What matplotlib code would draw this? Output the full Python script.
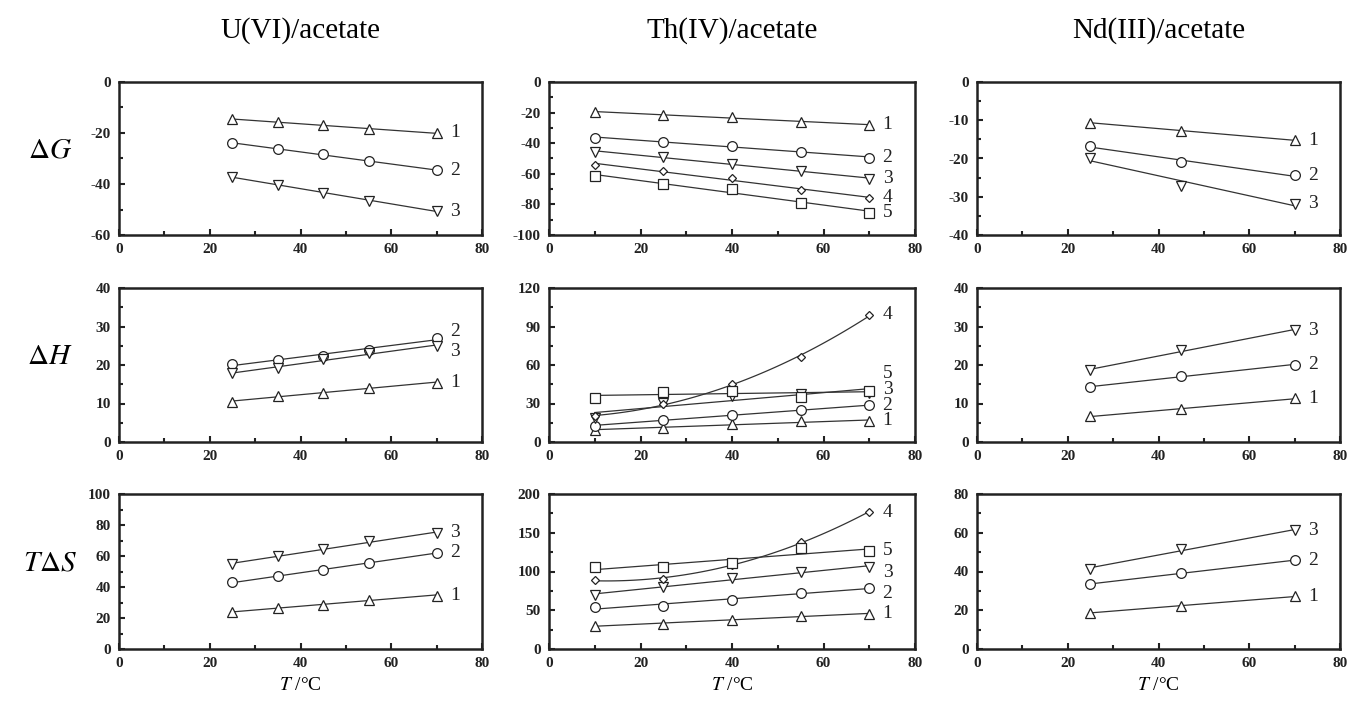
import matplotlib
matplotlib.use("Agg")
import matplotlib.pyplot as plt
import numpy as np
from matplotlib.ticker import MultipleLocator

plt.rcParams['font.family'] = ['Liberation Serif', 'DejaVu Serif']
plt.rcParams['mathtext.fontset'] = 'stix'
plt.rcParams['axes.unicode_minus'] = False

# temperatures (deg C)
T_U = [25, 35, 45, 55, 70]
T_TH = [10, 25, 40, 55, 70]
T_ND = [25, 45, 70]

# U(VI)/acetate
U_dG = [[-14.5, -15.7, -17.0, -18.5, -20.0],
        [-23.9, -26.3, -28.4, -31.0, -34.6],
        [-37.2, -40.4, -43.4, -46.5, -50.6]]
U_dH = [[10.4, 12.0, 12.8, 14.1, 15.4],
        [20.2, 21.4, 22.3, 24.0, 27.0],
        [18.0, 19.1, 21.5, 23.0, 25.0]]
U_TdS = [[23.7, 26.5, 28.7, 31.9, 34.5],
         [43.2, 46.9, 50.8, 55.5, 62.2],
         [55.0, 59.8, 64.4, 69.5, 74.9]]

# Th(IV)/acetate
TH_dG = [[-19.5, -21.4, -23.2, -26.0, -27.9],
         [-36.6, -39.0, -41.6, -45.5, -49.6],
         [-45.5, -49.0, -53.5, -58.2, -63.2],
         [-54.0, -58.2, -62.8, -70.8, -75.5],
         [-61.7, -66.5, -69.7, -78.8, -85.5]]
TH_dH = [[9.7, 10.7, 14.0, 16.0, 16.5],
         [12.8, 17.0, 21.0, 24.8, 28.6],
         [18.7, 30.6, 36.0, 37.5, 38.5],
         [20.0, 30.0, 45.0, 66.0, 99.0],
         [34.5, 39.0, 40.0, 35.2, 40.0]]
TH_TdS = [[30.1, 32.3, 37.4, 43.0, 45.5],
          [53.8, 55.9, 63.2, 71.8, 79.1],
          [69.7, 80.4, 91.2, 99.8, 105.4],
          [89.0, 90.0, 108.4, 138.5, 176.4],
          [105.4, 105.4, 111.4, 130.0, 126.5]]

# Nd(III)/acetate
ND_dG = [[-10.6, -12.8, -15.2],
         [-16.7, -21.0, -24.4],
         [-19.9, -27.1, -31.8]]
ND_dH = [[6.7, 8.5, 11.3],
         [14.3, 17.1, 20.1],
         [18.6, 24.0, 29.0]]
ND_TdS = [[18.8, 22.1, 27.2],
          [33.4, 39.4, 45.7],
          [41.4, 51.7, 61.2]]

COL_TITLES = ["U(VI)/acetate", "Th(IV)/acetate", "Nd(III)/acetate"]
ROW_LABELS = [r"$\Delta\mathit{G}$", r"$\Delta\mathit{H}$", r"$\mathit{T}\Delta\mathit{S}$"]
MARKERS = ["^", "o", "v", "D", "s"]
MSIZE = {"^": 7.5, "o": 7, "v": 7.5, "D": 4.5, "s": 7}

# panel: (x, series, ylim, major, minor, label offsets in points, curved series)
panels = [
    [(T_U, U_dG, (-60, 0), 20, 10, {}, []),
     (T_TH, TH_dG, (-100, 0), 20, 10, {}, []),
     (T_ND, ND_dG, (-40, 0), 10, 5, {}, [])],
    [(T_U, U_dH, (0, 40), 10, 5, {1: 5, 2: -4}, []),
     (T_TH, TH_dH, (0, 120), 30, 15, {4: 12, 2: 2, 1: 0, 0: 0}, [3]),
     (T_ND, ND_dH, (0, 40), 10, 5, {}, [])],
    [(T_U, U_TdS, (0, 100), 20, 10, {}, []),
     (T_TH, TH_TdS, (0, 200), 50, 25, {2: -4, 1: -4}, [3]),
     (T_ND, ND_TdS, (0, 80), 20, 10, {}, [])],
]

lefts = [119, 549, 977]
widths = [363, 366, 363]
tops = [82, 288, 494]
heights = [153, 154, 155]

fig = plt.figure(figsize=(13.5, 7.01), dpi=100)

for r in range(3):
    for c in range(3):
        x, series, ylim, maj, mnr, offs, curved = panels[r][c]
        ax = fig.add_axes([lefts[c] / 1350, 1 - (tops[r] + heights[r]) / 701,
                           widths[c] / 1350, heights[r] / 701])
        x = np.array(x, dtype=float)
        for i, y in enumerate(series):
            y = np.array(y)
            if i in curved:
                p = np.polyfit(x, y, 2)
            else:
                p = np.polyfit(x, y, 1)
            xs = np.linspace(x[0], x[-1], 100)
            ax.plot(xs, np.polyval(p, xs), color="#333333", lw=0.9, zorder=1)
            m = MARKERS[i]
            ax.plot(x, y, ls="none", marker=m, ms=MSIZE[m], mfc="white",
                    mec="#222222", mew=0.9, zorder=2)
            ax.annotate(str(i + 1), (74, y[-1]), xytext=(0, offs.get(i, 0)),
                        textcoords="offset points", ha="center", va="center",
                        fontsize=14, color="#222222")
        ax.set_xlim(0, 80)
        ax.set_ylim(*ylim)
        ax.xaxis.set_major_locator(MultipleLocator(20))
        ax.xaxis.set_minor_locator(MultipleLocator(10))
        ax.yaxis.set_major_locator(MultipleLocator(maj))
        ax.yaxis.set_minor_locator(MultipleLocator(mnr))
        ax.tick_params(which="both", direction="in", width=1.5, colors="#222222",
                       labelsize=11, pad=6)
        ax.tick_params(which="major", length=4)
        ax.tick_params(which="minor", length=3)
        for lab in ax.get_xticklabels() + ax.get_yticklabels():
            lab.set_fontweight("bold")
        for s in ax.spines.values():
            s.set_linewidth(1.8)
            s.set_color("#222222")
        if r == 0:
            ax.set_title(COL_TITLES[c], fontsize=21, pad=32)
        if r == 2:
            ax.set_xlabel(r"$\mathit{T}$ /°C", fontsize=14, labelpad=5)
        if c == 0:
            fig.text(50 / 1350, 1 - (tops[r] + 0.5 * heights[r] - 8) / 701,
                     ROW_LABELS[r], fontsize=21, ha="center", va="center")

fig.savefig("out.png", dpi=100)
